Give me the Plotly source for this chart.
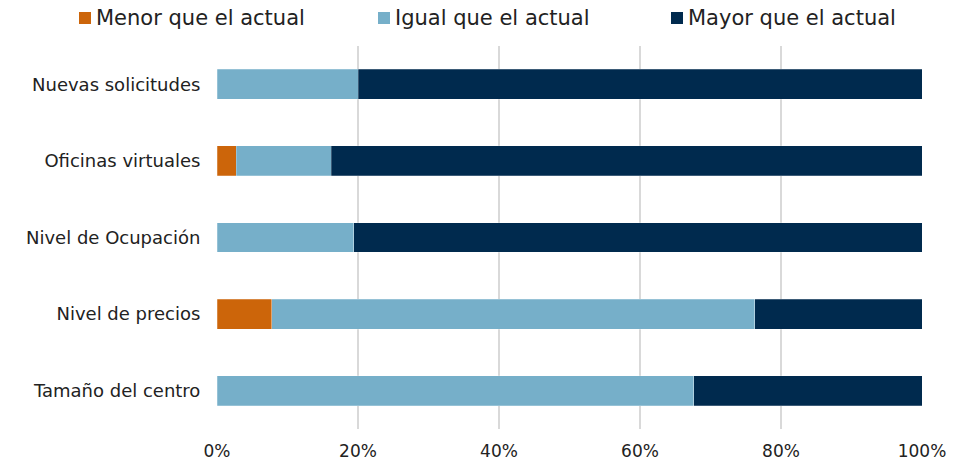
import plotly.graph_objects as go

# Categories listed bottom to top (plotly draws the first category at the bottom)
categories = ["Tamaño del centro", "Nivel de precios", "Nivel de Ocupación",
              "Oficinas virtuales", "Nuevas solicitudes"]
menor = [0.0, 7.8, 0.0, 2.7, 0.0]
igual = [67.6, 68.5, 19.4, 13.5, 20.0]
mayor = [32.4, 23.7, 80.6, 83.8, 80.0]

series_names = ["Menor que el actual", "Igual que el actual", "Mayor que el actual"]
series_colors = ["#CC650A", "#76AFC9", "#002A4E"]

font_family = "'DejaVu Sans', 'Noto Sans', sans-serif"

W, H = 966, 462
ML, MR, MT, MB = 217, 44, 46, 33
PW, PH = W - ML - MR, H - MT - MB


def px_x(px):
    return (px - ML) / PW


def px_y(py):
    return (H - MB - py) / PH


fig = go.Figure()
for name, vals, color in zip(series_names, [menor, igual, mayor], series_colors):
    fig.add_trace(go.Bar(
        y=categories, x=vals, name=name, orientation="h",
        marker=dict(color=color, line=dict(color="rgba(255,255,255,0.4)", width=0.6)),
        hovertemplate="%{y}: %{x:.1f}%<extra>" + name + "</extra>",
        showlegend=False,
    ))

# Legend drawn as a row of swatches + labels across the top
legend_square_left = [79, 378, 671]
for name, color, sx in zip(series_names, series_colors, legend_square_left):
    fig.add_shape(type="rect", xref="paper", yref="paper",
                  x0=px_x(sx), x1=px_x(sx + 12), y0=px_y(24), y1=px_y(12),
                  fillcolor=color, line=dict(width=0))
    fig.add_annotation(text=name, xref="paper", yref="paper",
                       x=px_x(sx + 15), y=px_y(18), xanchor="left", yanchor="middle",
                       showarrow=False, font=dict(size=21, color="#222222"))

fig.update_layout(
    barmode="stack",
    bargap=0.61,
    width=W, height=H,
    margin=dict(l=ML, r=MR, t=MT, b=MB, autoexpand=False),
    plot_bgcolor="white", paper_bgcolor="white",
    font=dict(family=font_family, color="#222222", size=18),
    showlegend=False,
)
fig.update_xaxes(range=[0, 100], dtick=20, ticksuffix="%", showgrid=True,
                 gridcolor="#D9D9D9", gridwidth=2, zeroline=False,
                 ticks="outside", ticklen=7, tickcolor="rgba(0,0,0,0)",
                 tickfont=dict(size=17), fixedrange=True)
fig.update_yaxes(showgrid=False, ticks="outside", ticklen=12,
                 tickcolor="rgba(0,0,0,0)", tickfont=dict(size=18),
                 fixedrange=True)

fig.write_html("out.html")
